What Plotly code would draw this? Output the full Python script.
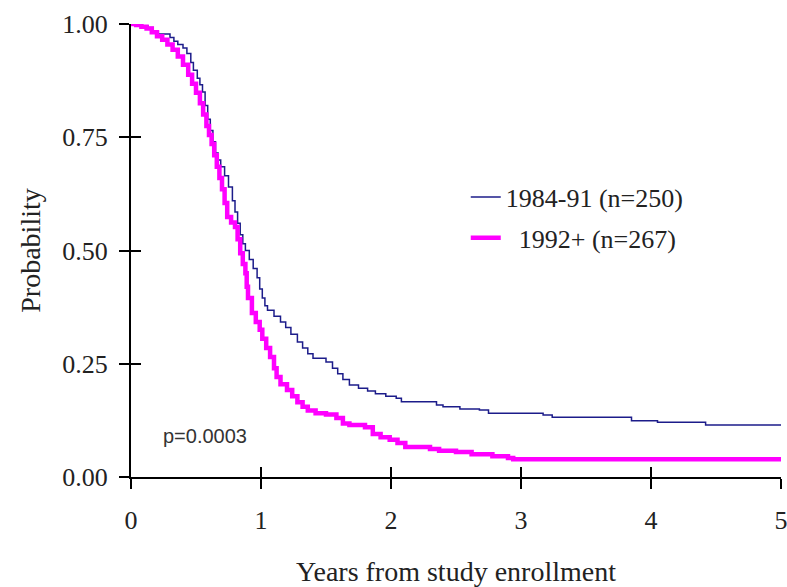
import plotly.graph_objects as go

# Kaplan-Meier estimates (event time in years, survival probability)
t_8491 = [0, 0.08, 0.13, 0.17, 0.21, 0.30, 0.33, 0.36, 0.40, 0.43, 0.46, 0.48, 0.51, 0.53, 0.55,
          0.57, 0.59, 0.61, 0.63, 0.65, 0.67, 0.69, 0.72, 0.75, 0.78, 0.80, 0.82, 0.84, 0.86, 0.88,
          0.91, 0.94, 0.97, 0.99, 1.01, 1.03, 1.05, 1.10, 1.15, 1.19, 1.23, 1.28, 1.32, 1.36, 1.40,
          1.50, 1.55, 1.59, 1.63, 1.68, 1.75, 1.82, 1.88, 1.96, 2.04, 2.08, 2.35, 2.40, 2.53, 2.68,
          2.75, 3.17, 3.24, 3.85, 4.05, 4.42, 5.0]
s_8491 = [1.0, 0.996, 0.992, 0.984, 0.978, 0.970, 0.962, 0.955, 0.947, 0.935, 0.915, 0.898, 0.880, 0.866, 0.850,
          0.820, 0.790, 0.765, 0.740, 0.715, 0.700, 0.685, 0.665, 0.640, 0.610, 0.585, 0.560, 0.535, 0.515, 0.500,
          0.480, 0.460, 0.440, 0.415, 0.395, 0.378, 0.368, 0.355, 0.342, 0.330, 0.315, 0.298, 0.285, 0.272, 0.262,
          0.254, 0.240, 0.228, 0.215, 0.203, 0.196, 0.190, 0.184, 0.178, 0.174, 0.166, 0.159, 0.155, 0.150, 0.148,
          0.141, 0.137, 0.132, 0.124, 0.121, 0.115, 0.115]

t_1992 = [0, 0.04, 0.08, 0.12, 0.16, 0.20, 0.24, 0.28, 0.32, 0.36, 0.40, 0.44, 0.47, 0.50, 0.53,
          0.555, 0.58, 0.60, 0.62, 0.64, 0.66, 0.68, 0.70, 0.72, 0.74, 0.77, 0.80, 0.82, 0.84, 0.86,
          0.88, 0.89, 0.90, 0.93, 0.96, 0.99, 1.01, 1.04, 1.07, 1.10, 1.12, 1.15, 1.20, 1.24, 1.28,
          1.32, 1.36, 1.42, 1.50, 1.58, 1.63, 1.68, 1.80, 1.86, 1.92, 1.99, 2.05, 2.11, 2.30, 2.37,
          2.50, 2.62, 2.78, 2.90, 2.94, 5.0]
s_1992 = [1.0, 0.998, 0.994, 0.990, 0.982, 0.973, 0.965, 0.955, 0.943, 0.928, 0.910, 0.888, 0.868, 0.848, 0.825,
          0.800, 0.775, 0.755, 0.735, 0.710, 0.685, 0.660, 0.635, 0.605, 0.574, 0.562, 0.552, 0.525, 0.494, 0.470,
          0.450, 0.420, 0.395, 0.362, 0.342, 0.325, 0.305, 0.285, 0.265, 0.240, 0.221, 0.205, 0.192, 0.178, 0.165,
          0.155, 0.147, 0.141, 0.138, 0.130, 0.118, 0.115, 0.110, 0.095, 0.088, 0.082, 0.075, 0.066, 0.062, 0.058,
          0.055, 0.050, 0.046, 0.042, 0.039, 0.039]

x_ticks = [0, 1, 2, 3, 4, 5]
y_ticks = [0, 0.25, 0.5, 0.75, 1.0]
name_8491 = "1984-91 (n=250)"
name_1992 = "\u00a0\u00a01992+ (n=267)"

SERIF = "Liberation Serif, Times New Roman, serif"
TXT = "#222222"
TICKFONT = dict(family=SERIF, size=26, color=TXT)
TITLEFONT = dict(family=SERIF, size=28, color=TXT)

fig = go.Figure()
fig.add_trace(go.Scatter(x=t_8491, y=s_8491, mode="lines", line=dict(shape="hv", color="#1C1C8A", width=1.5),
                         name=name_8491, legendgroup="a"))
fig.add_trace(go.Scatter(x=t_1992, y=s_1992, mode="lines", line=dict(shape="hv", color="#FF00FF", width=4.5),
                         name=name_1992, legendgroup="b"))
# empty trace to create the overlay axes that give crossing ticks
fig.add_trace(go.Scatter(x=[], y=[], xaxis="x2", yaxis="y2", showlegend=False, hoverinfo="skip"))

axis_common = dict(showgrid=False, zeroline=False, tickwidth=2, tickcolor="black", ticklen=10, automargin=False)

fig.update_layout(
    width=787, height=587,
    margin=dict(l=131, r=6, t=24, b=110),
    paper_bgcolor="white", plot_bgcolor="white",
    font=dict(family=SERIF, size=26, color=TXT),
    xaxis=dict(range=[0, 5], tickvals=x_ticks, ticks="outside", showline=True, linecolor="black", linewidth=2,
               tickfont=TICKFONT, ticklabeloverflow="allow",
               title=dict(text="Years from study enrollment", standoff=28, font=TITLEFONT), ticklabelstandoff=9,
               **axis_common),
    yaxis=dict(range=[0, 1], tickvals=y_ticks, tickformat=".2f", ticks="outside", showline=True, linecolor="black",
               linewidth=2, tickfont=TICKFONT, ticklabeloverflow="allow",
               title=dict(text="Probability", standoff=13, font=TITLEFONT), ticklabelstandoff=6, **axis_common),
    xaxis2=dict(range=[0, 5], tickvals=x_ticks, ticks="inside", overlaying="x", anchor="y", side="bottom",
                showticklabels=False, showline=False, **axis_common),
    yaxis2=dict(range=[0, 1], tickvals=y_ticks, ticks="inside", overlaying="y", anchor="x", side="left",
                showticklabels=False, showline=False, **axis_common),
    legend=dict(x=0.515, y=0.67, xanchor="left", yanchor="top", bgcolor="rgba(0,0,0,0)",
                font=TICKFONT, tracegroupgap=4, traceorder="grouped", itemwidth=30),
    annotations=[dict(x=0.57, y=0.09, xref="x", yref="y", text="p=0.0003", showarrow=False,
                      font=dict(family="Liberation Sans, Arial, sans-serif", size=20, color="#333333"))],
)

fig.write_html("out.html")
